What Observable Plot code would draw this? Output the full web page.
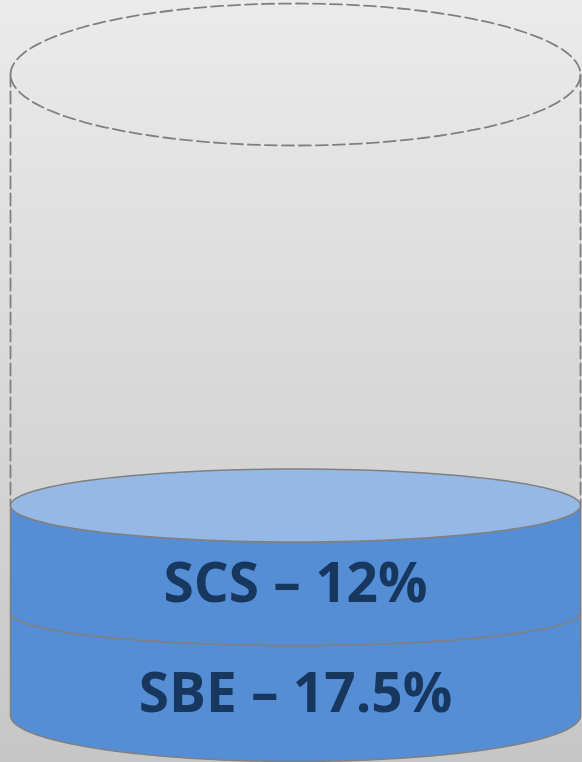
<!DOCTYPE html>
<html><head><meta charset="utf-8">
<script src="https://cdn.jsdelivr.net/npm/d3@7"></script>
<script src="https://cdn.jsdelivr.net/npm/@observablehq/plot@0.6"></script>
<style>
html,body{margin:0;padding:0;}
body{width:582px;height:762px;overflow:hidden;background:linear-gradient(#ebebeb,#c6c6c6);}
#chart svg{display:block;}
</style></head><body><div id="chart"></div>
<script>
// ---- data ----
const segments = ["SBE", "SCS"];
const values = [17.5, 12];
const labels = ["SBE – 17.5%", "SCS – 12%"];
const capacity = 100;

// ---- layout / style ----
const W = 582, H = 762;
const yRange = [715, 612, 505, 74];      // pixel position of each boundary (perspective drawing)
const ryPx = [46, 33, 36.5, 71];         // ellipse half-height at each boundary
const sideFill = "#558ed5", topFill = "#95b8e6", edge = "#808080", textColor = "#17375e";
const dash = "12,5";

const levels = [0];
values.forEach(v => levels.push(levels[levels.length - 1] + v));
const yDomain = [...levels, capacity];
const xOpt = {domain: [-1, 1], range: [10, 580]};
const yOpt = {type: "linear", domain: yDomain, range: yRange};
// same piecewise mapping as Plot's y scale, used to lay out ellipse outlines in data units
const yGeom = d3.scaleLinear(yDomain, yRange);

function arc(level, ry, t0, t1, n = 120) {
  const cy = yGeom(level);
  const pts = [];
  for (let i = 0; i <= n; i++) {
    const t = t0 + (t1 - t0) * i / n;
    pts.push({x: Math.cos(t), y: yGeom.invert(cy + ry * Math.sin(t))});
  }
  return pts;
}

const marks = [];
const fillTop = levels[levels.length - 1];
// empty capacity outline
marks.push(Plot.line(arc(capacity, ryPx[3], Math.PI, 3 * Math.PI), {x: "x", y: "y", stroke: edge, strokeWidth: 1.8, strokeDasharray: dash}));
marks.push(Plot.line([{x: -1, y: capacity}, {x: -1, y: fillTop}], {x: "x", y: "y", stroke: edge, strokeWidth: 1.8, strokeDasharray: dash}));
marks.push(Plot.line([{x: 1, y: capacity}, {x: 1, y: fillTop}], {x: "x", y: "y", stroke: edge, strokeWidth: 1.8, strokeDasharray: dash}));

// segments
segments.forEach((s, i) => {
  const a = levels[i], b = levels[i + 1];
  const lower = arc(a, ryPx[i], Math.PI, 0);
  const pts = [...lower, ...arc(b, ryPx[i + 1], 0, Math.PI), lower[0]];
  marks.push(Plot.line(pts, {x: "x", y: "y", fill: sideFill, stroke: edge, strokeWidth: 1.5}));
});
// top face
marks.push(Plot.line(arc(fillTop, ryPx[levels.length - 1], 0, 2 * Math.PI), {x: "x", y: "y", fill: topFill, stroke: edge, strokeWidth: 1.5}));

// labels
segments.forEach((s, i) => {
  const a = levels[i], b = levels[i + 1];
  marks.push(Plot.text([{x: 0, y: (a + b) / 2, label: labels[i]}], {
    x: "x", y: "y", text: "label",
    dy: (ryPx[i] + ryPx[i + 1]) / 2 - 9,
    fontSize: 55, fontWeight: "bold", fontFamily: "Open Sans", fill: textColor
  }));
});

const chart = Plot.plot({
  width: W, height: H, margin: 0,
  x: {...xOpt, axis: null},
  y: {...yOpt, axis: null},
  style: {background: "transparent", overflow: "visible"},
  marks
});
document.getElementById("chart").append(chart);
</script></body></html>
